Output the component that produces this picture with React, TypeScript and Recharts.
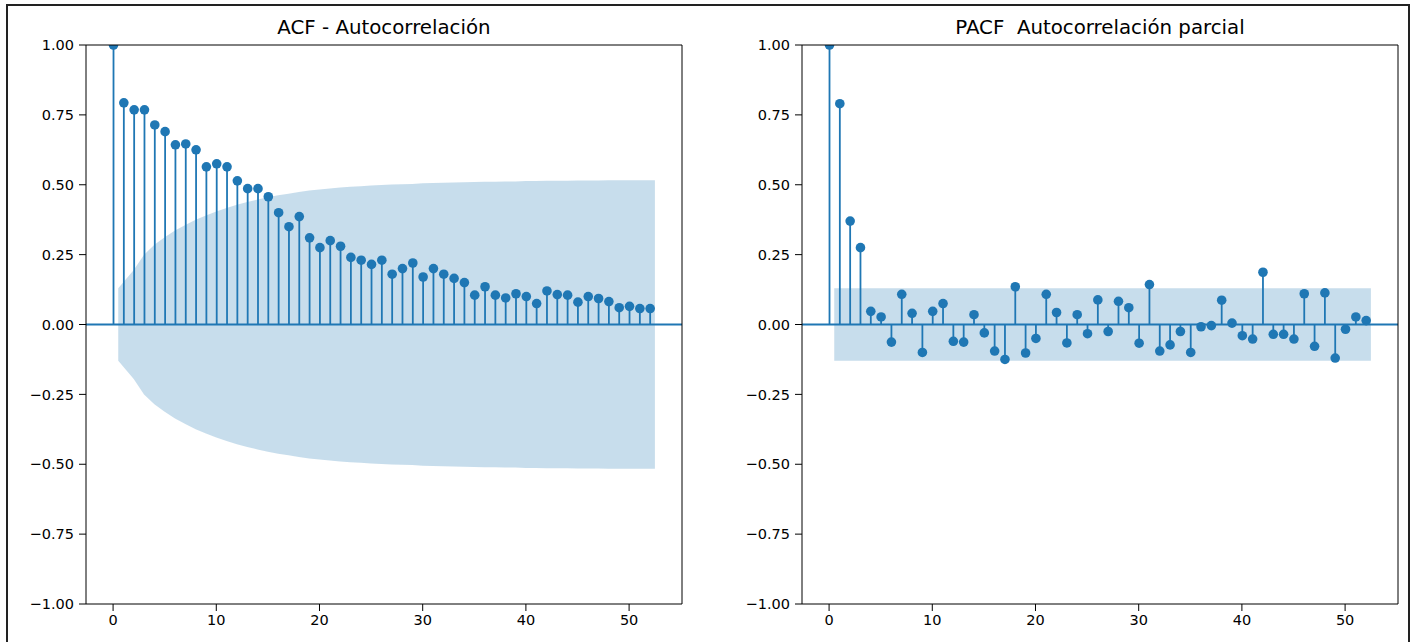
import React from 'react';
import { ComposedChart, Bar, Area, XAxis, YAxis, ReferenceLine } from 'recharts';

const lags = [0,1,2,3,4,5,6,7,8,9,10,11,12,13,14,15,16,17,18,19,20,21,22,23,24,25,26,27,28,29,30,31,32,33,34,35,36,37,38,39,40,41,42,43,44,45,46,47,48,49,50,51,52];

const acfValues = [1.0,0.793,0.768,0.768,0.714,0.69,0.643,0.646,0.625,0.564,0.575,0.564,0.514,0.486,0.486,0.457,0.40,0.35,0.386,0.31,0.275,0.30,0.28,0.24,0.23,0.215,0.23,0.18,0.20,0.22,0.17,0.20,0.18,0.165,0.15,0.105,0.135,0.105,0.095,0.11,0.10,0.075,0.12,0.107,0.105,0.08,0.10,0.093,0.082,0.06,0.065,0.057,0.057];

const pacfValues = [1.0,0.79,0.37,0.275,0.047,0.027,-0.063,0.108,0.04,-0.10,0.047,0.075,-0.06,-0.063,0.035,-0.03,-0.095,-0.125,0.135,-0.102,-0.05,0.108,0.043,-0.066,0.035,-0.033,0.088,-0.025,0.083,0.06,-0.067,0.143,-0.095,-0.073,-0.025,-0.10,-0.008,-0.004,0.087,0.005,-0.04,-0.052,0.187,-0.035,-0.035,-0.052,0.11,-0.078,0.113,-0.12,-0.017,0.027,0.014];

const acfBandX = [0.5,2,3,4,5,6,7,8,9,10,11,12,13,14,15,16,17,18,19,20,21,22,23,24,25,26,27,28,29,30,31,32,33,34,35,36,37,38,39,40,41,42,43,44,45,46,47,48,49,50,51,52.5];
const acfBandUpper = [0.13,0.195,0.25,0.285,0.312,0.336,0.356,0.375,0.39,0.404,0.417,0.428,0.438,0.447,0.455,0.462,0.468,0.474,0.479,0.483,0.487,0.49,0.493,0.495,0.497,0.499,0.501,0.502,0.503,0.505,0.506,0.507,0.508,0.509,0.51,0.511,0.511,0.512,0.512,0.513,0.513,0.514,0.514,0.514,0.515,0.515,0.515,0.516,0.516,0.516,0.516,0.516];
const acfBandLower = [-0.13,-0.195,-0.25,-0.285,-0.312,-0.336,-0.356,-0.375,-0.39,-0.404,-0.417,-0.428,-0.438,-0.447,-0.455,-0.462,-0.468,-0.474,-0.479,-0.483,-0.487,-0.49,-0.493,-0.495,-0.497,-0.499,-0.501,-0.502,-0.503,-0.505,-0.506,-0.507,-0.508,-0.509,-0.51,-0.511,-0.511,-0.512,-0.512,-0.513,-0.513,-0.514,-0.514,-0.514,-0.515,-0.515,-0.515,-0.516,-0.516,-0.516,-0.516,-0.516];

const pacfBandX = [0.5, 52.5];
const pacfBandUpper = [0.13, 0.13];
const pacfBandLower = [-0.13, -0.13];

const xTicks = [0, 10, 20, 30, 40, 50];
const yTicks = [-1, -0.75, -0.5, -0.25, 0, 0.25, 0.5, 0.75, 1];
const xDomain: [number, number] = [-2.625, 55.125];

const BLUE = '#1f77b4';
const FONT = '"DejaVu Sans", sans-serif';

type Row = { x: number; v: number | null; band: [number, number] | null };

function buildRows(values: number[], bx: number[], bl: number[], bu: number[]): Row[] {
  const map = new Map<number, Row>();
  lags.forEach((l, i) => map.set(l, { x: l, v: values[i], band: null }));
  bx.forEach((x, i) => {
    const r = map.get(x);
    if (r) r.band = [bl[i], bu[i]];
    else map.set(x, { x, v: null, band: [bl[i], bu[i]] });
  });
  return Array.from(map.values()).sort((a, b) => a.x - b.x);
}

const acfRows = buildRows(acfValues, acfBandX, acfBandLower, acfBandUpper);
const pacfRows = buildRows(pacfValues, pacfBandX, pacfBandLower, pacfBandUpper);

const Stem = (props: any) => {
  const { x, y, width, height, payload } = props;
  if (!payload || payload.v == null) return null;
  const cx = x + width / 2;
  const y1 = y;
  const y2 = y + height;
  const top = Math.min(y1, y2);
  const bot = Math.max(y1, y2);
  const dotY = payload.v >= 0 ? top : bot;
  return (
    <g>
      <line x1={cx} x2={cx} y1={top} y2={bot} stroke={BLUE} strokeWidth={1.8} />
      <circle cx={cx} cy={dotY} r={4.8} fill={BLUE} />
    </g>
  );
};

const fmtY = (v: number) => (v < 0 ? '\u2212' : '') + Math.abs(v).toFixed(2);

const tickStyle = { fill: '#000', fontSize: 14.5, fontFamily: FONT };

function Panel({ rows, left, width, rightMargin, title }: { rows: Row[]; left: number; width: number; rightMargin: number; title: string }) {
  return (
    <div style={{ position: 'absolute', left, top: 0 }}>
      <div
        style={{
          position: 'absolute',
          left: 86,
          top: 18,
          width: width - 86 - rightMargin,
          textAlign: 'center',
          fontFamily: FONT,
          fontSize: 19.8,
          lineHeight: '20px',
          color: '#000',
          whiteSpace: 'pre',
        }}
      >
        {title}
      </div>
      <ComposedChart
        width={width}
        height={642}
        data={rows}
        margin={{ top: 45, right: rightMargin, bottom: 8, left: 26 }}
      >
        <XAxis
          dataKey="x"
          type="number"
          domain={xDomain}
          ticks={xTicks}
          allowDataOverflow
          height={30}
          tickSize={7}
          tickMargin={4}
          tick={tickStyle}
          stroke="#000"
          tickLine={{ stroke: '#000' }}
          axisLine={{ stroke: '#000' }}
        />
        <YAxis
          type="number"
          domain={[-1, 1]}
          ticks={yTicks}
          allowDataOverflow
          width={60}
          tickSize={7}
          tickMargin={5}
          tickFormatter={fmtY}
          tick={tickStyle}
          stroke="#000"
          tickLine={{ stroke: '#000' }}
          axisLine={{ stroke: '#000' }}
        />
        <ReferenceLine y={0} stroke={BLUE} strokeWidth={1.8} />
        <Area
          dataKey="band"
          type="linear"
          connectNulls
          stroke="none"
          fill={BLUE}
          fillOpacity={0.25}
          isAnimationActive={false}
          dot={false}
          activeDot={false}
        />
        <Bar dataKey="v" barSize={2} shape={<Stem />} isAnimationActive={false} />
        <ReferenceLine y={1} stroke="#000" strokeWidth={1} />
        <ReferenceLine x={55.125} stroke="#000" strokeWidth={1} />
      </ComposedChart>
    </div>
  );
}

export default function App() {
  return (
    <div style={{ position: 'absolute', left: 0, top: 0, width: 1410, height: 642, background: '#fff', overflow: 'hidden' }}>
      <div style={{ position: 'absolute', left: 6, top: 4, width: 1400, height: 700, border: '2px solid #222' }} />
      <Panel rows={acfRows} left={0} width={700} rightMargin={18} title="ACF - Autocorrelación" />
      <Panel rows={pacfRows} left={716} width={694} rightMargin={12} title="PACF  Autocorrelación parcial" />
    </div>
  );
}
